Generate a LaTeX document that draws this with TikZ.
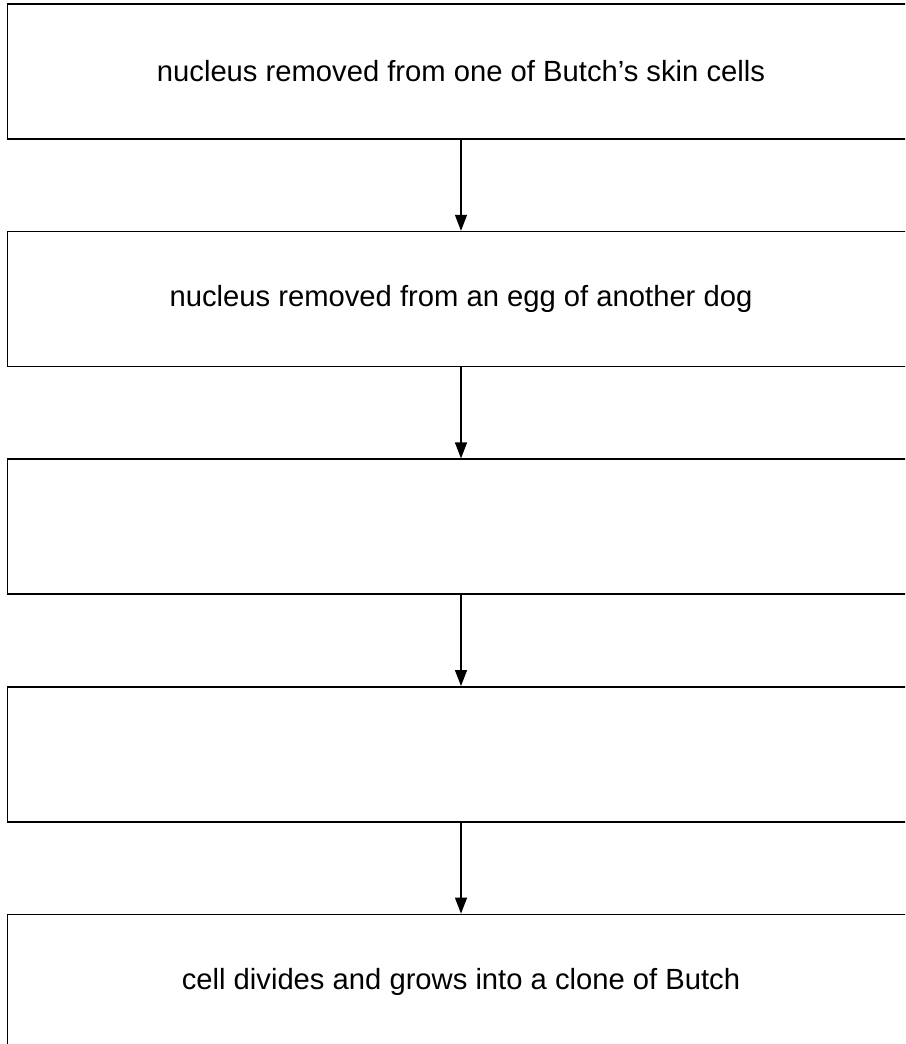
\documentclass[tikz,border=0pt]{standalone}
\usepackage{fontspec}
\setmainfont{Liberation Sans}
\usetikzlibrary{arrows.meta, positioning}

\begin{document}
\begin{tikzpicture}[
    x=0.5pt, y=-0.5pt,
    >={Triangle[length=8pt,width=6pt]},
    node distance=45.5pt,
    stage/.style={draw, line width=0.8pt, minimum width=453.5pt, minimum height=67.5pt, inner sep=0pt, font=\fontsize{14.6}{17}\selectfont},
    link/.style={->, line width=0.7pt}
    ]
    \useasboundingbox (0,0) rectangle (905,1044);
    \clip (0,0) rectangle (905,1044);

    % --- Pasos ---
    \node (skin) [stage] at (461,71.5) {nucleus removed from one of Butch’s skin cells};

    \node (egg) [stage, below=of skin] {nucleus removed from an egg of another dog};

    \node (blank1) [stage, below=of egg] {};

    \node (blank2) [stage, below=of blank1] {};

    \node (clone) [stage, below=of blank2] {cell divides and grows into a clone of Butch};

    % --- Flechas ---
    \draw[link] (skin) -- (egg);
    \draw[link] (egg) -- (blank1);
    \draw[link] (blank1) -- (blank2);
    \draw[link] (blank2) -- (clone);

\end{tikzpicture}
\end{document}
